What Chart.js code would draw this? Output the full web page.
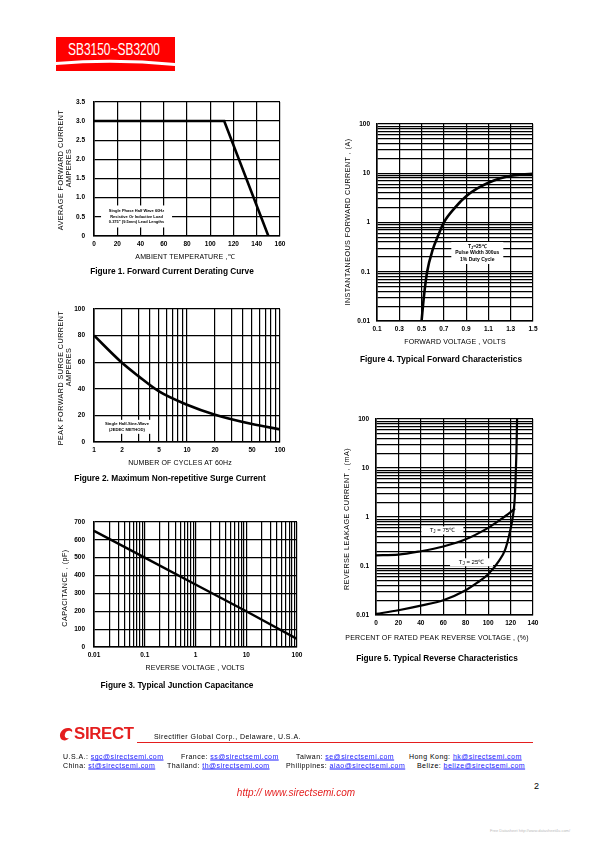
<!DOCTYPE html>
<html><head><meta charset="utf-8">
<script src="https://cdn.jsdelivr.net/npm/chart.js@4.4.0/dist/chart.umd.min.js"></script>
<style>
body{margin:0;background:#fff;width:595px;height:842px;position:relative;overflow:hidden;font-family:"Liberation Sans",Arial,sans-serif;color:#000;}
.abs{position:absolute;white-space:nowrap;line-height:1;}
canvas{position:absolute;}
.cap{font-weight:bold;font-size:8.3px;transform:translate(-50%,-50%);}
.xt{font-size:7px;transform:translate(-50%,-50%);letter-spacing:0.15px;}
.yt{font-size:7.2px;transform:translate(-50%,-50%) rotate(-90deg);letter-spacing:0.45px;}
.ft{font-size:7px;letter-spacing:0.45px;transform:translateY(-50%);}
.ft a{color:#1a1aff;text-decoration:underline;}
</style>
</head><body>
<svg class="abs" style="left:0;top:0" width="595" height="80">
  <rect x="56" y="37" width="119" height="34" fill="#ff0000"/>
  <path d="M56,62 Q115,57 175,63 L175,66 Q115,60 56,65 Z" fill="#fff"/>
  <text x="68" y="55" font-family="Liberation Sans, Arial" font-size="17" fill="#fff" textLength="92" lengthAdjust="spacingAndGlyphs">SB3150~SB3200</text>
</svg>

<script>
// ---------- DATA ----------
const fig1Temp = [0, 112, 150];
const fig1Current = [3.0, 3.0, 0];
const fig1XTicks = [0, 20, 40, 60, 80, 100, 120, 140, 160];
const fig1YTicks = [0, 0.5, 1, 1.5, 2, 2.5, 3, 3.5];
const fig1YLabels = ["0", "0.5", "1.0", "1.5", "2.0", "2.5", "3.0", "3.5"];

const fig2Cycles = [1, 2, 3, 5, 10, 20, 50, 100];
const fig2Surge = [80, 59.5, 49.5, 38, 28, 20.5, 13.5, 9.5];
const fig2XLabels = [1, 2, 5, 10, 20, 50, 100];
const fig2YTicks = [0, 20, 40, 60, 80, 100];

const fig3Voltage = [0.01, 0.1, 1, 10, 100];
const fig3Capacitance = [650, 500, 350, 200, 45];
const fig3XLabels = [0.01, 0.1, 1, 10, 100];
const fig3YTicks = [0, 100, 200, 300, 400, 500, 600, 700];

const fig4Voltage = [0.5, 0.52, 0.55, 0.6, 0.65, 0.7, 0.8, 0.9, 1.0, 1.1, 1.2, 1.3, 1.4, 1.5];
const fig4Current = [0.01, 0.03, 0.1, 0.28, 0.55, 1.0, 2.0, 3.4, 4.9, 6.4, 7.8, 8.9, 9.4, 9.7];
const fig4XTicks = [0.1, 0.3, 0.5, 0.7, 0.9, 1.1, 1.3, 1.5];
const fig4YLabels = [0.01, 0.1, 1, 10, 100];

const fig5Percent75 = [0, 20, 40, 60, 80, 100, 110, 120, 124];
const fig5Leak75 = [0.165, 0.17, 0.2, 0.25, 0.35, 0.6, 0.85, 1.25, 1.5];
const fig5Percent25 = [0, 20, 40, 60, 80, 90, 100, 110, 115, 119, 122, 123.5, 124.5, 125.2, 125.8];
const fig5Leak25 = [0.0105, 0.0125, 0.0155, 0.02, 0.032, 0.045, 0.068, 0.13, 0.21, 0.45, 1.0, 2.0, 6.0, 20, 100];
const fig5XTicks = [0, 20, 40, 60, 80, 100, 120, 140];
const fig5YLabels = [0.01, 0.1, 1, 10, 100];

// ---------- HELPERS ----------
const FONT = '"Liberation Sans", Arial, sans-serif';
function logGrid(lo, hi) {
  const out = [];
  for (let e = lo; e < hi; e++) for (let m = 1; m < 10; m++) out.push(+(m * Math.pow(10, e)).toPrecision(3));
  out.push(+Math.pow(10, hi).toPrecision(3));
  return out;
}
function inList(list, v) { return list.some(t => Math.abs(t - v) < 1e-9 * Math.max(1, Math.abs(t))); }
function pts(xs, ys) { return xs.map((x, i) => ({ x: x, y: ys[i] })); }

function boxPlugin(items) {
  return {
    id: 'boxes',
    beforeDatasetsDraw(chart) {
      const ctx = chart.ctx, xs = chart.scales.x, ys = chart.scales.y;
      items.forEach(b => {
        const cx = xs.getPixelForValue(b.x), cy = ys.getPixelForValue(b.y);
        ctx.save();
        ctx.fillStyle = '#fff';
        ctx.fillRect(cx - b.w / 2, cy - b.h / 2, b.w, b.h);
        ctx.fillStyle = '#000';
        ctx.textBaseline = 'middle';
        b.lines.forEach((parts, i) => {
          const yy = cy + (i - (b.lines.length - 1) / 2) * b.lh;
          let total = 0;
          parts.forEach(p => { ctx.font = p.f; total += ctx.measureText(p.t).width; });
          let xx = cx - total / 2;
          ctx.textAlign = 'left';
          parts.forEach(p => { ctx.font = p.f; ctx.fillText(p.t, xx, yy + (p.dy || 0)); xx += ctx.measureText(p.t).width; });
        });
        ctx.restore();
      });
    }
  };
}

function axis(o, dir, size) {
  return {
    type: o.type, min: o.min, max: o.max, position: dir === 'x' ? 'bottom' : 'left',
    afterBuildTicks: s => { s.ticks = o.grid.map(v => ({ value: v })); },
    afterFit: s => { if (dir === 'x') s.height = size; else s.width = size; },
    grid: { color: '#000', lineWidth: 1.2, drawTicks: false },
    border: { color: '#000', width: 1.6 },
    ticks: { autoSkip: false, maxRotation: 0, minRotation: 0, padding: o.pad, color: '#000',
      font: { family: FONT, size: 6.5, weight: 'bold' }, callback: v => o.label(v) }
  };
}

function buildChart(rect, xOpts, yOpts, datasets, boxes) {
  const padL = 40, padT = 10, padR = 16, padB = 20;
  const cv = document.createElement('canvas');
  const w = rect.R - rect.L + padL + padR, h = rect.B - rect.T + padT + padB;
  cv.width = w; cv.height = h;
  cv.style.left = (rect.L - padL) + 'px'; cv.style.top = (rect.T - padT) + 'px';
  cv.style.width = w + 'px'; cv.style.height = h + 'px';
  document.body.appendChild(cv);
  new Chart(cv, {
    type: 'line',
    data: { datasets: datasets },
    options: {
      responsive: false, animation: false, devicePixelRatio: 1,
      layout: { padding: { left: 0, top: padT, right: padR, bottom: 0 } },
      plugins: { legend: { display: false }, tooltip: { enabled: false } },
      elements: { point: { radius: 0 } },
      scales: { x: axis(xOpts, 'x', padB), y: axis(yOpts, 'y', padL) }
    },
    plugins: [boxPlugin(boxes)]
  });
}
const B4 = 'bold 4px ' + FONT, B42 = 'bold 4.2px ' + FONT, B5 = 'bold 5px ' + FONT;
const R6 = '6px ' + FONT, R4 = '4.5px ' + FONT, B35 = 'bold 3.8px ' + FONT;

// Figure 1
buildChart({ L: 94, R: 280, T: 99, B: 236 },
  { type: 'linear', min: 0, max: 160, grid: fig1XTicks, pad: 4, label: v => String(v) },
  { type: 'linear', min: 0, max: 3.5, grid: fig1YTicks, pad: 9, label: v => fig1YLabels[fig1YTicks.indexOf(v)] || '' },
  [{ data: pts(fig1Temp, fig1Current), borderColor: '#000', borderWidth: 2.6, tension: 0 }],
  [{ x: 36.6, y: 0.51, w: 71, h: 22, lh: 5.7, lines: [
    [{ t: 'Single Phase Half Wave 60Hz', f: B4 }],
    [{ t: 'Resistive Or Inductive Load', f: B4 }],
    [{ t: '0.375" (9.5mm) Lead Lengths', f: B4 }]] }]);

// Figure 2
buildChart({ L: 94, R: 280, T: 306, B: 442 },
  { type: 'logarithmic', min: 1, max: 100, grid: logGrid(0, 2), pad: 4, label: v => inList(fig2XLabels, v) ? String(v) : '' },
  { type: 'linear', min: 0, max: 100, grid: fig2YTicks, pad: 9, label: v => String(v) },
  [{ data: pts(fig2Cycles, fig2Surge), borderColor: '#000', borderWidth: 2.6, cubicInterpolationMode: 'monotone' }],
  [{ x: 2.26, y: 11.4, w: 60, h: 14, lh: 6, lines: [
    [{ t: 'Single Half-Sine-Wave', f: B42 }],
    [{ t: '(JEDEC METHOD)', f: B42 }]] }]);

// Figure 3
buildChart({ L: 94, R: 297, T: 519, B: 647 },
  { type: 'logarithmic', min: 0.01, max: 100, grid: logGrid(-2, 2), pad: 4, label: v => inList(fig3XLabels, v) ? String(v) : '' },
  { type: 'linear', min: 0, max: 700, grid: fig3YTicks, pad: 9, label: v => String(v) },
  [{ data: pts(fig3Voltage, fig3Capacitance), borderColor: '#000', borderWidth: 2.4, tension: 0 }],
  []);

// Figure 4
buildChart({ L: 377, R: 533, T: 123, B: 321 },
  { type: 'linear', min: 0.1, max: 1.5, grid: fig4XTicks, pad: 4, label: v => String(v) },
  { type: 'logarithmic', min: 0.01, max: 100, grid: logGrid(-2, 2), pad: 7, label: v => inList(fig4YLabels, v) ? String(v) : '' },
  [{ data: pts(fig4Voltage, fig4Current), borderColor: '#000', borderWidth: 2.6, cubicInterpolationMode: 'monotone' }],
  [{ x: 1.0, y: 0.24, w: 52, h: 22, lh: 6.2, lines: [
    [{ t: 'T', f: B5 }, { t: 'J', f: B35, dy: 1 }, { t: '=25℃', f: B5 }],
    [{ t: 'Pulse Width 300us', f: B5 }],
    [{ t: '1% Duty Cycle', f: B5 }]] }]);

// Figure 5
buildChart({ L: 376, R: 533, T: 418, B: 615 },
  { type: 'linear', min: 0, max: 140, grid: fig5XTicks, pad: 4, label: v => String(v) },
  { type: 'logarithmic', min: 0.01, max: 100, grid: logGrid(-2, 2), pad: 7, label: v => inList(fig5YLabels, v) ? String(v) : '' },
  [{ data: pts(fig5Percent75, fig5Leak75), borderColor: '#000', borderWidth: 2.2, cubicInterpolationMode: 'monotone' },
   { data: pts(fig5Percent25, fig5Leak25), borderColor: '#000', borderWidth: 2.2, cubicInterpolationMode: 'monotone' }],
  [{ x: 59.2, y: 0.53, w: 42, h: 8, lh: 6, lines: [[{ t: 'T', f: R6 }, { t: 'J', f: R4, dy: 1 }, { t: ' = 75℃', f: R6 }]] },
   { x: 85.2, y: 0.119, w: 43, h: 8, lh: 6, lines: [[{ t: 'T', f: R6 }, { t: 'J', f: R4, dy: 1 }, { t: ' = 25℃', f: R6 }]] }]);
</script>

<!-- axis titles -->
<div class="abs yt" style="left:61px;top:170px">AVERAGE FORWARD CURRENT</div>
<div class="abs yt" style="left:69px;top:168px">AMPERES</div>
<div class="abs xt" style="left:185px;top:256px">AMBIENT TEMPERATURE ,℃</div>
<div class="abs cap" style="left:172px;top:271px">Figure 1. Forward Current Derating Curve</div>

<div class="abs yt" style="left:61px;top:378px">PEAK FORWARD SURGE CURRENT</div>
<div class="abs yt" style="left:69px;top:367px">AMPERES</div>
<div class="abs xt" style="left:180px;top:462px">NUMBER OF CYCLES AT 60Hz</div>
<div class="abs cap" style="left:170px;top:478px">Figure 2. Maximum Non-repetitive Surge Current</div>

<div class="abs yt" style="left:65px;top:588px">CAPACITANCE , (pF)</div>
<div class="abs xt" style="left:195px;top:667px">REVERSE VOLTAGE , VOLTS</div>
<div class="abs cap" style="left:177px;top:685px">Figure 3. Typical Junction Capacitance</div>

<div class="abs yt" style="left:348px;top:222px">INSTANTANEOUS FORWARD CURRENT , (A)</div>
<div class="abs xt" style="left:455px;top:341px">FORWARD VOLTAGE , VOLTS</div>
<div class="abs cap" style="left:441px;top:359px">Figure 4. Typical Forward Characteristics</div>

<div class="abs yt" style="left:347px;top:519px">REVERSE LEAKAGE CURRENT , (mA)</div>
<div class="abs xt" style="left:437px;top:637px">PERCENT OF RATED PEAK REVERSE VOLTAGE , (%)</div>
<div class="abs cap" style="left:437px;top:658px">Figure 5. Typical Reverse Characteristics</div>

<!-- footer -->
<svg class="abs" style="left:58px;top:725px" width="18" height="18">
  <path d="M3,14 C0,9 4,3 10,3 C13,3 15,5 14,7 C12,5 8,5 7,9 C6,12 8,14 11,13 C9,16 5,16 3,14 Z" fill="#e41e1e"/>
</svg>
<div class="abs" style="left:74px;top:726px;font-size:16px;font-weight:900;color:#e41e1e;letter-spacing:-0.3px;transform:scaleX(1.05);transform-origin:left">SIRECT</div>
<div class="abs ft" style="left:154px;top:736px">Sirectifier Global Corp., Delaware, U.S.A.</div>
<div class="abs" style="left:137px;top:742px;width:396px;height:1.3px;background:#e41e1e"></div>

<div class="abs ft" style="left:63px;top:756px">U.S.A.: <a>sgc@sirectsemi.com</a></div>
<div class="abs ft" style="left:181px;top:756px">France: <a>ss@sirectsemi.com</a></div>
<div class="abs ft" style="left:296px;top:756px">Taiwan: <a>se@sirectsemi.com</a></div>
<div class="abs ft" style="left:409px;top:756px">Hong Kong: <a>hk@sirectsemi.com</a></div>
<div class="abs ft" style="left:63px;top:765px">China: <a>st@sirectsemi.com</a></div>
<div class="abs ft" style="left:167px;top:765px">Thailand: <a>th@sirectsemi.com</a></div>
<div class="abs ft" style="left:286px;top:765px">Philippines: <a>aiao@sirectsemi.com</a></div>
<div class="abs ft" style="left:417px;top:765px">Belize: <a>belize@sirectsemi.com</a></div>

<div class="abs" style="left:534px;top:782px;font-size:9px">2</div>
<div class="abs" style="left:296px;top:793px;font-size:10px;font-style:italic;color:#e41e1e;transform:translate(-50%,-50%)">http:// www.sirectsemi.com</div>
<div class="abs" style="left:490px;top:829px;font-size:4px;color:#bbb">Free Datasheet http://www.datasheet4u.com/</div>
</body></html>
